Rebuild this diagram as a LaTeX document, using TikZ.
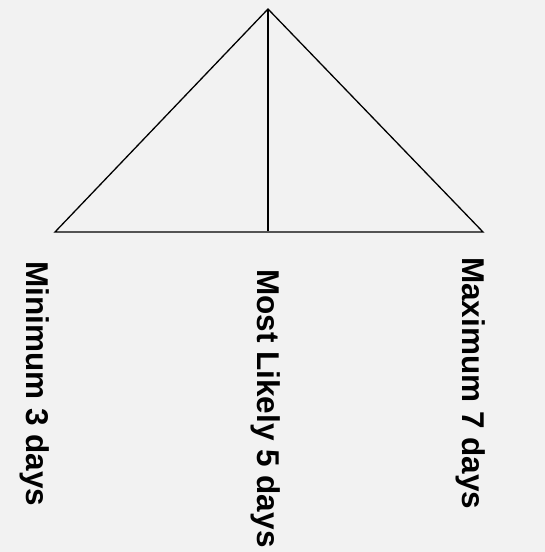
\documentclass[tikz,border=0pt]{standalone}
\usepackage{fontspec}
\setmainfont{Liberation Sans}
\usepackage{tikz}
\usetikzlibrary{positioning}

\definecolor{bgcol}{HTML}{F2F2F2}

\begin{document}
\begin{tikzpicture}[
  x=1pt, y=-1pt,
  edge/.style={draw, line width=1.3pt, black},
  daylabel/.style={rotate=-90, anchor=base west, inner sep=0pt,
    font=\bfseries\fontsize{31.5}{36}\selectfont},
]
% Background
\fill[bgcol] (0,0) rectangle (545,552);
\useasboundingbox (0,0) rectangle (545,552);
\clip (0,0) rectangle (545,552);

% Triangle corners
\coordinate (apex) at (268,9);
\coordinate (minpt) at (55,232);
\coordinate (maxpt) at (483,232);
\coordinate (modept) at (268,231);

% Triangle
\draw[edge] (minpt) -- (apex) -- (maxpt) -- cycle;
\draw[edge] (apex) -- (modept);

% Labels
\node[daylabel] (minlbl) at (27,261) {Minimum 3 days};
\node[daylabel] (modelbl) at (257,269) {Most Likely 5 days};
\node[daylabel] (maxlbl) at (462,257) {Maximum 7 days};
\end{tikzpicture}
\end{document}
